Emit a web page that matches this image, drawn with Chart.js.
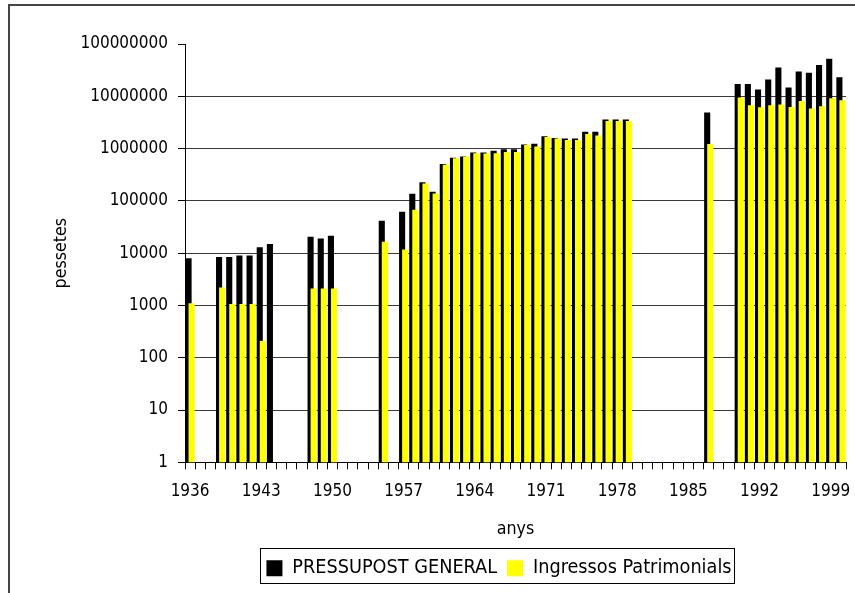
<!DOCTYPE html>
<html>
<head>
<meta charset="utf-8">
<script src="https://cdn.jsdelivr.net/npm/chart.js@4.4.1/dist/chart.umd.min.js"></script>
<style>
  html, body { margin: 0; padding: 0; background: #fff; }
</style>
</head>
<body>
<canvas id="chart" width="855" height="593"></canvas>
<script>
// years on the category axis
const years = [
  1936, 1937, 1938, 1939, 1940, 1941, 1942, 1943, 1944, 1945,
  1946, 1947, 1948, 1949, 1950, 1951, 1952, 1953, 1954, 1955,
  1956, 1957, 1958, 1959, 1960, 1961, 1962, 1963, 1964, 1965,
  1966, 1967, 1968, 1969, 1970, 1971, 1972, 1973, 1974, 1975,
  1976, 1977, 1978, 1979, 1980, 1981, 1982, 1983, 1984, 1985,
  1986, 1987, 1988, 1989, 1990, 1991, 1992, 1993, 1994, 1995,
  1996, 1997, 1998, 1999, 2000
];

// only these years get a label under the axis
const xTickLabels = [1936, 1943, 1950, 1957, 1964, 1971, 1978, 1985, 1992, 1999];
const yTicks = [1, 10, 100, 1000, 10000, 100000, 1000000, 10000000, 100000000];

// PRESSUPOST GENERAL (black)
const pressupost = [
  8000, null, null, 8400, 8400, 9000, 9000, 13000, 14900, null,
  null, null, 20600, 19100, 21500, null, null, null, null, 41700,
  null, 62000, 137000, 226000, 150000, 506000, 671000, 703000, 838000, 838000,
  910000, 966000, 966000, 1190000, 1240000, 1720000, 1590000, 1550000, 1550000, 2100000,
  2100000, 3610000, 3610000, 3610000, null, null, null, null, null, null,
  null, 4900000, null, null, 17100000, 17100000, 13500000, 21000000, 35600000, 14700000,
  29900000, 28100000, 39500000, 52000000, 23200000
];

// Ingressos Patrimonials (yellow)
const ingressos = [
  1100, null, null, 2200, 1070, 1070, 1070, 210, null, null,
  null, null, 2100, 2100, 2100, null, null, null, null, 16500,
  null, 11800, 67800, 214000, 139000, 492000, 651000, 700000, 813000, 805000,
  813000, 861000, 861000, 1170000, 1100000, 1660000, 1550000, 1460000, 1460000, 1900000,
  1780000, 3360000, 3360000, 3360000, null, null, null, null, null, null,
  null, 1220000, null, null, 9500000, 6750000, 6200000, 6750000, 6970000, 6270000,
  8170000, 5840000, 6460000, 9200000, 8400000
];

const FONT = '"DejaVu Sans Condensed", "Liberation Sans Narrow", sans-serif';
Chart.defaults.font.family = FONT;
Chart.defaults.color = '#000';

// white page + the frame line at top and left
const frame = {
  id: 'frame',
  beforeDraw(chart) {
    const ctx = chart.ctx;
    ctx.save();
    ctx.fillStyle = '#fff';
    ctx.fillRect(0, 0, chart.width, chart.height);
    ctx.strokeStyle = '#444';
    ctx.lineWidth = 2;
    ctx.beginPath();
    ctx.moveTo(9, chart.height);
    ctx.lineTo(9, 5);
    ctx.lineTo(chart.width, 5);
    ctx.stroke();
    ctx.restore();
  }
};

// yellow bars sit on top of the black ones
const yellowOnTop = {
  id: 'yellowOnTop',
  beforeDatasetDraw(chart, args) {
    if (args.index === 1) return false;
  },
  afterDatasetsDraw(chart) {
    chart.getDatasetMeta(1).controller.draw();
  }
};

// move the legend a bit and put a box round it
const legendBox = {
  id: 'legendBox',
  afterLayout(chart) {
    const lg = chart.legend;
    const shift = 499 - (lg.left + lg.right) / 2;
    lg.left += shift;
    lg.right += shift;
  },
  afterDraw(chart) {
    const boxes = chart.legend.legendHitBoxes;
    if (!boxes || !boxes.length) return;
    const first = boxes[0];
    const last = boxes[boxes.length - 1];
    const ctx = chart.ctx;
    const x0 = Math.round(first.left - 6) + 0.5;
    const x1 = Math.round(last.left + last.width + 2) + 0.5;
    const y0 = Math.round(first.top - 10) + 0.5;
    const y1 = Math.round(first.top + first.height + 5) + 0.5;
    ctx.save();
    ctx.strokeStyle = '#000';
    ctx.lineWidth = 1;
    ctx.strokeRect(x0, y0, x1 - x0, y1 - y0);
    ctx.restore();
  }
};

new Chart(document.getElementById('chart'), {
  type: 'bar',
  data: {
    labels: years,
    datasets: [
      {
        label: 'PRESSUPOST GENERAL',
        data: pressupost,
        backgroundColor: '#000000',
        borderColor: '#000000',
        borderWidth: 0,
        categoryPercentage: 0.6,
        barPercentage: 2.0
      },
      {
        label: 'Ingressos Patrimonials',
        data: ingressos,
        backgroundColor: '#ffff00',
        borderColor: '#ffff00',
        borderWidth: 0,
        categoryPercentage: 0.6,
        barPercentage: 2.0
      }
    ]
  },
  options: {
    responsive: false,
    animation: false,
    layout: { padding: { left: 10, top: 44, right: 9, bottom: 5 } },
    plugins: {
      tooltip: { enabled: false },
      legend: {
        position: 'bottom',
        labels: {
          boxWidth: 16,
          boxHeight: 16,
          padding: 10,
          color: '#000',
          font: { size: 19.7 }
        }
      }
    },
    scales: {
      x: {
        offset: true,
        border: { color: '#000', width: 1 },
        grid: {
          offset: true,
          drawOnChartArea: false,
          drawTicks: true,
          tickLength: 7,
          color: '#000',
          tickColor: '#000'
        },
        ticks: {
          autoSkip: false,
          maxRotation: 0,
          minRotation: 0,
          padding: 12,
          font: { size: 17 },
          color: '#000',
          callback: function (value, index) {
            return xTickLabels.includes(years[index]) ? String(years[index]) : '';
          }
        },
        title: {
          display: true,
          text: 'anys',
          font: { size: 17.7 },
          color: '#000',
          padding: { top: 0, bottom: 8 }
        },
        afterFit: s => { s.height = 86; }
      },
      y: {
        type: 'logarithmic',
        min: 1,
        max: 100000000,
        afterBuildTicks: s => { s.ticks = yTicks.map(v => ({ value: v })); },
        afterFit: s => { s.width = 175; },
        border: { color: '#000', width: 1 },
        grid: {
          color: ctx => (ctx.tick && ctx.tick.value === 100000000) ? 'rgba(0,0,0,0)' : '#3a3a3a',
          tickColor: '#000',
          tickLength: 7,
          lineWidth: 1
        },
        ticks: {
          padding: 10,
          font: { size: 17 },
          color: '#000',
          callback: v => String(v)
        },
        title: {
          display: true,
          text: 'pessetes',
          font: { size: 17.7 },
          color: '#000',
          padding: { top: 41, bottom: 0 }
        }
      }
    }
  },
  plugins: [frame, yellowOnTop, legendBox]
});
</script>
</body>
</html>
